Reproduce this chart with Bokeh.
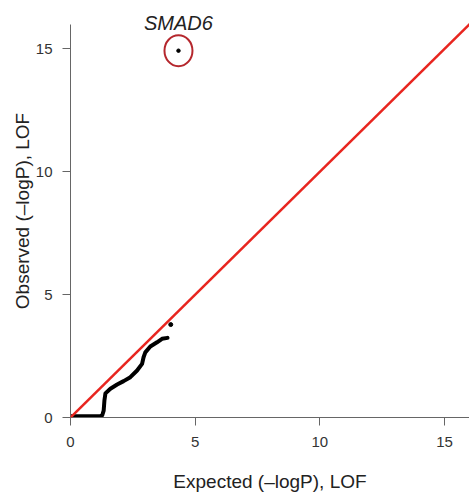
from bokeh.plotting import figure
from bokeh.models import Slope, Label, ColumnDataSource, Range1d, FixedTicker
from bokeh.embed import file_html
from bokeh.resources import INLINE

# QQ curve (expected, observed)
expected = [0.0, 0.3, 0.6, 0.9, 1.2, 1.27, 1.33, 1.36, 1.40, 1.60, 1.87, 2.13, 2.40,
            2.67, 2.87, 2.93, 3.00, 3.20, 3.47, 3.67, 3.89]
observed = [0.05, 0.05, 0.05, 0.05, 0.06, 0.08, 0.28, 0.69, 0.98, 1.17, 1.34, 1.48, 1.64,
            1.91, 2.18, 2.45, 2.65, 2.89, 3.06, 3.20, 3.24]
outlier_x = [4.02]
outlier_y = [3.78]
gene = "SMAD6"
gene_x = [4.33]
gene_y = [14.92]
ticks = [0, 5, 10, 15]

FONT = "Liberation Sans"

p = figure(width=469, height=494, output_backend="svg", toolbar_location=None,
           x_range=Range1d(0, 16), y_range=Range1d(0, 16.8),
           min_border_left=70, min_border_right=0, min_border_top=4, min_border_bottom=77)
p.outline_line_color = None
p.grid.visible = False
p.background_fill_color = "white"

p.xaxis.axis_label = "Expected (\u2013logP), LOF"
p.yaxis.axis_label = "Observed (\u2013logP), LOF"
for ax in (p.xaxis[0], p.yaxis[0]):
    ax.ticker = FixedTicker(ticks=ticks)
    ax.axis_line_color = "#666666"
    ax.major_tick_line_color = "#666666"
    ax.major_tick_in = 0
    ax.major_tick_out = 8
    ax.minor_tick_line_color = None
    ax.major_label_text_font = FONT
    ax.major_label_text_font_size = "15px"
    ax.major_label_text_color = "#333333"
    ax.axis_label_text_font = FONT
    ax.axis_label_text_font_size = "19px"
    ax.axis_label_text_font_style = "normal"
    ax.axis_label_text_color = "#222222"
p.yaxis.bounds = (0, 16)
p.xaxis.major_label_standoff = 11
p.xaxis.axis_label_standoff = 21
p.yaxis.major_label_standoff = 10
p.yaxis.axis_label_standoff = 0

# identity line
p.add_layout(Slope(gradient=1, y_intercept=0, line_color="#e8251f", line_width=2.5))

src = ColumnDataSource(dict(x=expected, y=observed))
p.line("x", "y", source=src, line_color="black", line_width=4, line_join="round", line_cap="round")
p.scatter(outlier_x, outlier_y, size=4, color="black")
p.scatter(gene_x, gene_y, size=3.5, color="black")
p.ellipse(gene_x, gene_y, width=28, height=31, width_units="screen", height_units="screen",
          fill_color=None, line_color="#b5272d", line_width=2)

p.add_layout(Label(x=gene_x[0], y=gene_y[0], y_offset=28, text=gene, text_align="center",
                   text_baseline="middle", text_font=FONT, text_font_size="20px",
                   text_font_style="italic", text_color="#222222"))

open("out.html", "w").write(file_html(p, INLINE))
